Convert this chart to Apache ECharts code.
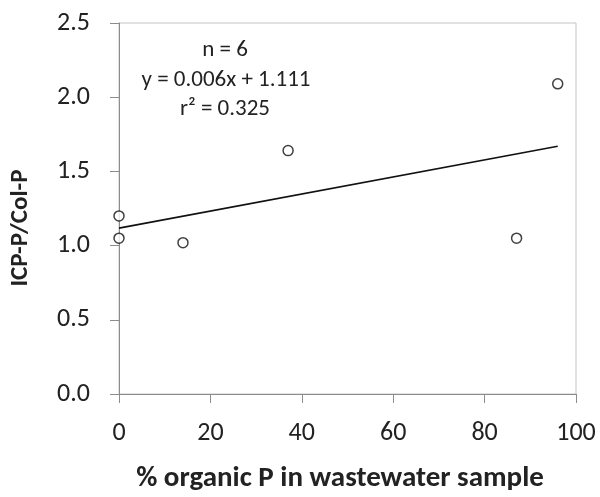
<!DOCTYPE html>
<html>
<head>
<meta charset="utf-8">
<script src="https://cdn.jsdelivr.net/npm/echarts@6/dist/echarts.min.js"></script>
<style>
  html, body { margin: 0; padding: 0; background: #fff; }
  #chart { width: 600px; height: 497px; }
</style>
</head>
<body>
<div id="chart"></div>
<script>
// data
const organicP = [0, 0, 14, 37, 87, 96];
const ratio = [1.20, 1.05, 1.02, 1.64, 1.05, 2.09];
const statLines = ['n = 6', 'y = 0.006x + 1.111', 'r\u00b2 = 0.325'];

const FONT = 'Carlito, Lato, sans-serif';

// least squares fit for the trend line
function fit(xs, ys) {
  const n = xs.length;
  const mx = xs.reduce((a, b) => a + b, 0) / n;
  const my = ys.reduce((a, b) => a + b, 0) / n;
  let sxy = 0, sxx = 0;
  for (let i = 0; i < n; i++) {
    sxy += (xs[i] - mx) * (ys[i] - my);
    sxx += (xs[i] - mx) * (xs[i] - mx);
  }
  const slope = sxy / sxx;
  return { slope: slope, icpt: my - slope * mx };
}
const lr = fit(organicP, ratio);
const xMin = Math.min(...organicP), xMax = Math.max(...organicP);
const trend = [[xMin, lr.icpt + lr.slope * xMin], [xMax, lr.icpt + lr.slope * xMax]];

const chart = echarts.init(document.getElementById('chart'));

const option = {
  animation: false,
  grid: {
    left: 119, right: 24, top: 23, bottom: 103,
    show: true, borderColor: '#c4c4c4', borderWidth: 1
  },
  xAxis: {
    type: 'value', min: 0, max: 100, interval: 20,
    axisLine: { show: true, lineStyle: { color: '#8c8c8c', width: 1 } },
    axisTick: { show: true, length: 9, lineStyle: { color: '#8c8c8c' } },
    splitLine: { show: false },
    axisLabel: { margin: 26, fontSize: 26, color: '#222', fontFamily: FONT }
  },
  yAxis: {
    type: 'value', min: 0, max: 2.5, interval: 0.5,
    axisLine: { show: true, lineStyle: { color: '#8c8c8c', width: 1 } },
    axisTick: { show: true, length: 9, lineStyle: { color: '#8c8c8c' } },
    splitLine: { show: false },
    axisLabel: {
      margin: 29, fontSize: 26, color: '#222', fontFamily: FONT,
      formatter: v => v.toFixed(1)
    }
  },
  graphic: [
    {
      type: 'text', x: 21, y: 228, rotation: Math.PI / 2,
      style: {
        text: 'ICP-P/Col-P', fill: '#222', font: 'bold 25px ' + FONT,
        align: 'center', verticalAlign: 'middle'
      }
    },
    {
      type: 'text', x: 340, y: 479,
      style: {
        text: '% organic P in wastewater sample', fill: '#222', font: 'bold 29px ' + FONT,
        align: 'center', verticalAlign: 'middle'
      }
    },
    {
      type: 'text', x: 225, y: 50,
      style: { text: statLines[0], fill: '#222', font: '23px ' + FONT, align: 'center', verticalAlign: 'middle' }
    },
    {
      type: 'text', x: 226, y: 80,
      style: { text: statLines[1], fill: '#222', font: '23px ' + FONT, align: 'center', verticalAlign: 'middle' }
    },
    {
      type: 'text', x: 225, y: 109,
      style: { text: statLines[2], fill: '#222', font: '23px ' + FONT, align: 'center', verticalAlign: 'middle' }
    }
  ],
  series: [
    {
      type: 'line',
      data: trend,
      symbol: 'none',
      lineStyle: { color: '#111', width: 1.6 },
      z: 2
    },
    {
      type: 'scatter',
      data: organicP.map((x, i) => [x, ratio[i]]),
      symbol: 'circle',
      symbolSize: 10,
      itemStyle: { color: '#fff', borderColor: '#111', borderWidth: 1.5 },
      z: 3
    }
  ]
};

chart.setOption(option);
</script>
</body>
</html>
